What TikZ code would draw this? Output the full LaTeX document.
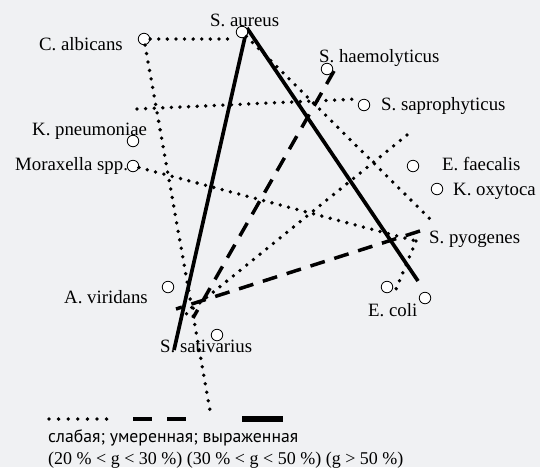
\documentclass[tikz,border=0pt]{standalone}
\usepackage{fontspec}
\setmainfont{Liberation Serif}
\newfontfamily\legendsans{PT Sans}
\usepackage{tikz}
\usetikzlibrary{positioning,calc}
\definecolor{paper}{RGB}{240,241,243}

\begin{document}
\begin{tikzpicture}[
  x=1pt,y=-1pt,
  spot/.style={circle, draw=black, fill=white, line width=0.8pt, minimum size=11.5pt, inner sep=0pt},
  lab/.style={anchor=base west, inner sep=0pt, font=\fontsize{18.8}{21}\selectfont},
  weak/.style={draw=black, line width=3.8pt, line cap=round, dash pattern=on 0pt off 8.6pt},
  medium/.style={draw=black, line width=3.5pt, dash pattern=on 15pt off 10pt},
  strong/.style={draw=black, line width=3.7pt}
]
  \fill[paper] (0,0) rectangle (540,467);
  \useasboundingbox (0,0) rectangle (540,467);

  \coordinate (s1) at (247,28);
  \coordinate (s2) at (174,350);
  \coordinate (s3) at (418,281);
  \coordinate (w1) at (211,416);
  \coordinate (w2) at (137,109);
  \coordinate (w3) at (358,99);
  \coordinate (w4) at (432,221);
  \coordinate (w5) at (416,241);
  \coordinate (w6) at (394,294);
  \coordinate (w7) at (407,135);
  \coordinate (w8) at (185,315);
  \coordinate (m1) at (334,71);
  \coordinate (m2) at (193,318);
  \coordinate (m3) at (420,231);
  \coordinate (m4) at (176,309);

  \draw[weak] (w2) -- (w3);
  \draw[weak] (w7) -- (w8);
  \draw[weak] (w5) -- (w6);
  \draw[medium] (m1) -- (m2);
  \draw[medium] (m3) -- (m4);
  \draw[strong] (s1) -- (s2);
  \draw[strong] (s1) -- (s3);

  \node[spot] (au) at (242,32) {};
  \node[spot] (ca) at (144,39) {};
  \node[spot] (sh) at (327,69) {};
  \node[spot] (ss) at (364,105) {};
  \node[spot] (kp) at (133,141) {};
  \node[spot] (mx) at (133,166) {};
  \node[spot] (ef) at (413,166) {};
  \node[spot] (ko) at (437,189) {};
  \node[spot] (ec) at (387,287) {};
  \node[spot] (ec2) at (425,298) {};
  \node[spot] (av) at (168,287) {};
  \node[spot] (sv) at (217,335) {};

  \draw[weak] (ca.east) -- (ca.east -| au.west);
  \draw[weak] (ca) -- (w1);
  \draw[weak] (au) -- (w4);
  \draw[weak] (mx) -- (w5);

  \node[lab] (tau) at (210,26) {S. aureus};
  \node[lab] (tca) at (39,50) {C. albicans};
  \node[lab] (tsh) at (319,62) {S. haemolyticus};
  \node[lab] (tss) at (381,110) {S. saprophyticus};
  \node[lab] (tkp) at (32,135) {K. pneumoniae};
  \node[lab] (tmx) at (15,170) {Moraxella spp.};
  \node[lab] (tef) at (442,170) {E. faecalis};
  \node[lab] (tko) at (453,195) {K. oxytoca};
  \node[lab] (tsp) at (429,243) {S. pyogenes};
  \node[lab] (tec) at (368,316) {E. coli};
  \node[lab] (tav) at (64,303) {A. viridans};
  \node[lab] (tsv) at (160,352) {S. sativarius};

  \coordinate (k1) at (49,419);
  \coordinate (k2) at (107,419);
  \coordinate (k3) at (133,419);
  \coordinate (k4) at (186,419);
  \coordinate (k5) at (242,419);
  \coordinate (k6) at (283,419);
  \draw[weak, dash pattern=on 0pt off 9.6pt] (k1) -- (k2);
  \draw[medium, line width=4pt, dash pattern=on 19pt off 15pt] (k3) -- (k4);
  \draw[strong, line width=5.5pt] (k5) -- (k6);
  \node[lab, font=\legendsans\fontsize{17.7}{21}\selectfont] (kt1) at (48,442) {слабая; умеренная; выраженная};
  \node[lab, font=\fontsize{18}{21}\selectfont] (kt2) at (48,464) {(20 \% < g < 30 \%) (30 \% < g < 50 \%) (g > 50 \%)};
\end{tikzpicture}
\end{document}
